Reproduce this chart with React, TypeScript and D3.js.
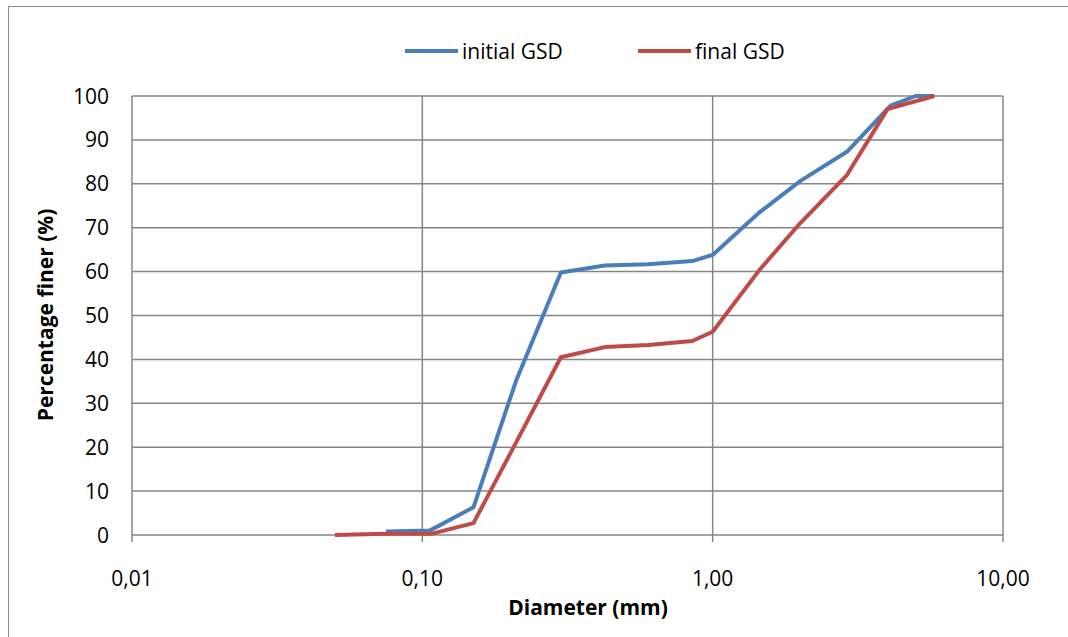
import React from "react";
import * as d3 from "d3";

// Grain size distribution: diameter (mm) vs percentage finer (%)
const initialDiameter = [0.075, 0.106, 0.15, 0.21, 0.3, 0.425, 0.6, 0.85, 1.0, 1.45, 2.0, 2.9, 4.1, 5.0, 5.8];
const initialFiner = [0.8, 1.0, 6.3, 35.0, 59.8, 61.4, 61.7, 62.4, 63.8, 73.5, 80.6, 87.3, 97.8, 100, 100];

const finalDiameter = [0.05, 0.075, 0.108, 0.15, 0.21, 0.3, 0.425, 0.6, 0.85, 1.0, 1.45, 2.0, 2.9, 4.0, 5.8];
const finalFiner = [0, 0.3, 0.3, 2.7, 21.0, 40.5, 42.8, 43.3, 44.2, 46.3, 60.4, 71.0, 82.0, 97.0, 100];

const xTicks = [0.01, 0.1, 1, 10];
const xTickLabels = ["0,01", "0,10", "1,00", "10,00"];
const yTicks = [0, 10, 20, 30, 40, 50, 60, 70, 80, 90, 100];

const seriesNames = ["initial GSD", "final GSD"];
const seriesColors = ["#4A7EBB", "#BE4B48"];

export default function App() {
  const W = 1068;
  const H = 637;
  const left = 132;
  const right = 1003;
  const top = 96;
  const bottom = 535;

  const x = d3.scaleLog().domain([0.01, 10]).range([left, right]);
  const y = d3.scaleLinear().domain([0, 100]).range([bottom, top]);

  const line = d3
    .line<[number, number]>()
    .x((d) => x(d[0]))
    .y((d) => y(d[1]));

  const series = [
    initialDiameter.map((d, i) => [d, initialFiner[i]] as [number, number]),
    finalDiameter.map((d, i) => [d, finalFiner[i]] as [number, number]),
  ];

  const font = "'Open Sans', sans-serif";
  const gridColor = "#868686";
  const fs = 21;

  return (
    <svg
      width={W}
      height={H}
      style={{ position: "absolute", left: 0, top: 0, background: "#fff" }}
      fontFamily={font}
    >
      <rect x={0} y={0} width={W} height={H} fill="#fff" />
      {/* chart frame */}
      <rect x={8.5} y={6.5} width={W + 10} height={H + 10} fill="none" stroke="#8c8c8c" strokeWidth={1} />

      {/* horizontal gridlines */}
      {yTicks.map((t) => (
        <line key={"h" + t} x1={left} x2={right} y1={y(t)} y2={y(t)} stroke={gridColor} strokeWidth={1.5} />
      ))}
      {/* vertical gridlines with tick marks below the axis */}
      {xTicks.map((t) => (
        <line key={"v" + t} x1={x(t)} x2={x(t)} y1={top} y2={bottom + 7} stroke={gridColor} strokeWidth={1.5} />
      ))}

      {/* y tick labels */}
      {yTicks.map((t) => (
        <text key={"yl" + t} x={109} y={y(t)} dy="0.36em" textAnchor="end" fontSize={fs} fill="#000">
          {t}
        </text>
      ))}
      {/* x tick labels */}
      {xTicks.map((t, i) => (
        <text key={"xl" + t} x={x(t)} y={578} dy="0.36em" textAnchor="middle" fontSize={fs} fill="#000">
          {xTickLabels[i]}
        </text>
      ))}

      {/* axis titles */}
      <text x={588} y={607} dy="0.36em" textAnchor="middle" fontSize={fs} fontWeight="bold" fill="#000">
        Diameter (mm)
      </text>
      <text
        transform={`translate(45, 315) rotate(-90)`}
        dy="0.36em"
        textAnchor="middle"
        fontSize={fs}
        fontWeight="bold"
        fill="#000"
      >
        Percentage finer (%)
      </text>

      {/* data lines */}
      {series.map((s, i) => (
        <path
          key={"s" + i}
          d={line(s) || ""}
          fill="none"
          stroke={seriesColors[i]}
          strokeWidth={4}
          strokeLinejoin="round"
        />
      ))}

      {/* legend */}
      {seriesNames.map((name, i) => {
        const lx = i === 0 ? 405 : 638;
        return (
          <g key={"lg" + i}>
            <line x1={lx} x2={lx + 53} y1={51} y2={51} stroke={seriesColors[i]} strokeWidth={4} />
            <text x={lx + 57} y={51} dy="0.36em" fontSize={fs} fill="#000">
              {name}
            </text>
          </g>
        );
      })}
    </svg>
  );
}
